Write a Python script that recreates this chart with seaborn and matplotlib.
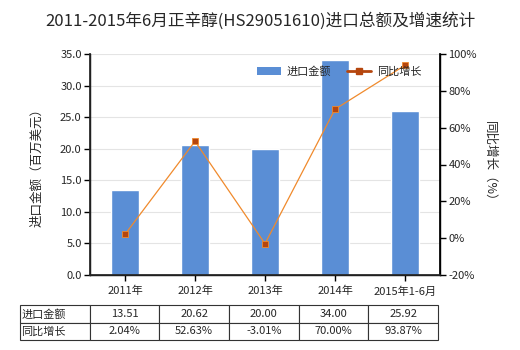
import matplotlib
matplotlib.use("Agg")
import matplotlib.pyplot as plt
import seaborn as sns
import pandas as pd
from matplotlib.lines import Line2D
from matplotlib.patches import Patch

categories = ["2011年", "2012年", "2013年", "2014年", "2015年1-6月"]
import_values = [13.51, 20.62, 20.00, 34.00, 25.92]
growth_values = [2.04, 52.63, -3.01, 70.00, 93.87]
value_labels = ["13.51", "20.62", "20.00", "34.00", "25.92"]
growth_labels = ["2.04%", "52.63%", "-3.01%", "70.00%", "93.87%"]
row_labels = ["进口金额", "同比增长"]

sns.set_theme(style="white")
plt.rcParams['font.family'] = ['Noto Sans CJK SC', 'DejaVu Sans']
plt.rcParams['axes.unicode_minus'] = False

bar_color = "#5A8ED5"
line_color = "#F08A2C"
marker_color = "#B5460E"

fig = plt.figure(figsize=(5.2, 3.5), dpi=100)
ax = fig.add_axes([90/520, 1-275/350, 350/520, 221/350])

df = pd.DataFrame({"cat": categories, "val": import_values})
sns.barplot(data=df, x="cat", y="val", ax=ax, color=bar_color, width=0.4,
            saturation=1, zorder=2)
ax.set_ylim(0, 35)
ax.set_yticks([0, 5, 10, 15, 20, 25, 30, 35])
ax.set_yticklabels([f"{v:.1f}" for v in [0, 5, 10, 15, 20, 25, 30, 35]], fontsize=8)
ax.set_xlim(-0.5, 4.5)
ax.set_xlabel("")
ax.set_ylabel("进口金额（百万美元）", fontsize=9, labelpad=12)
ax.grid(axis="y", color="#E4E4E4", linewidth=0.8, zorder=0)
ax.set_axisbelow(True)
ax.spines["top"].set_visible(False)
for s in ["left", "bottom", "right"]:
    ax.spines[s].set_color("black")
    ax.spines[s].set_linewidth(1)
ax.tick_params(axis="y", which="both", left=True, length=4, width=1, color="black", labelsize=8, pad=2)
ax.tick_params(axis="x", bottom=True, length=4, width=1, color="black", labelsize=8, pad=4)

ax2 = ax.twinx()
ax2.set_ylim(-20, 100)
sns.lineplot(x=list(range(len(categories))), y=growth_values, ax=ax2, color=line_color,
             linewidth=0.9, marker="s", markersize=5, markerfacecolor=marker_color,
             markeredgecolor=line_color, markeredgewidth=0.6, zorder=3)
ax2.set_yticks([-20, 0, 20, 40, 60, 80, 100])
ax2.set_yticklabels([f"{v}%" for v in [-20, 0, 20, 40, 60, 80, 100]], fontsize=8)
ax2.tick_params(axis="y", right=True, length=4, width=1, color="black", labelsize=8, pad=2)
ax2.set_ylabel("同比增长（%）", fontsize=9, rotation=-90, labelpad=14)
ax2.spines["top"].set_visible(False)
ax2.spines["right"].set_color("black")
ax2.grid(False)

handles = [Patch(facecolor=bar_color, edgecolor="none"),
           Line2D([0], [0], color=marker_color, linewidth=2, marker="s", markersize=4,
                  markerfacecolor=marker_color, markeredgecolor=marker_color)]
ax2.legend(handles, ["进口金额", "同比增长"], loc="upper right", bbox_to_anchor=(0.975, 0.99),
           ncol=2, frameon=False, fontsize=8, handlelength=2.2, columnspacing=1.4,
           handletextpad=0.5)

fig.suptitle("2011-2015年6月正辛醇(HS29051610)进口总额及增速统计", y=0.965, fontsize=12)

cell_text = [[row_labels[0]] + value_labels, [row_labels[1]] + growth_labels]
table = ax.table(cellText=cell_text, cellLoc="center",
                 bbox=[-0.2, -0.295, 1.194, 0.158])
table.auto_set_font_size(False)
for (r, c), cell in table.get_celld().items():
    cell.set_fontsize(8)
    cell.set_linewidth(0.8)
    cell.set_edgecolor("#333333")
    if c == 0:
        cell.get_text().set_ha("left")
        cell.PAD = 0.02

fig.savefig("out.png", dpi=100)
